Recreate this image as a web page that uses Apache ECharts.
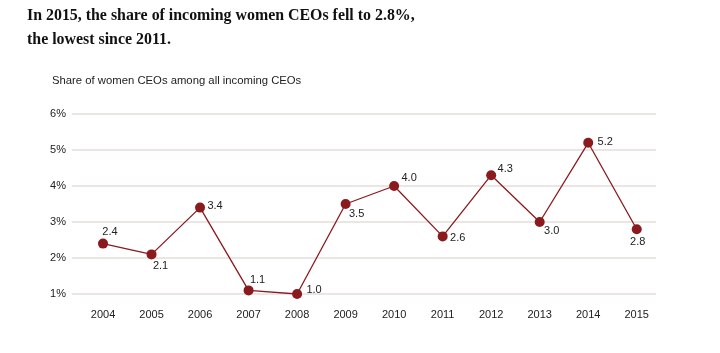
<!DOCTYPE html>
<html>
<head>
<meta charset="utf-8">
<script src="https://cdn.jsdelivr.net/npm/echarts@6/dist/echarts.min.js"></script>
<style>
  html, body { margin: 0; padding: 0; background: #fff; }
  #chart { width: 720px; height: 353px; }
</style>
</head>
<body>
<div id="chart"></div>
<script>
    // data
    var years = ["2004", "2005", "2006", "2007", "2008", "2009", "2010", "2011", "2012", "2013", "2014", "2015"];
    var share = [2.4, 2.1, 3.4, 1.1, 1.0, 3.5, 4.0, 2.6, 4.3, 3.0, 5.2, 2.8];
    var yTicks = [1, 2, 3, 4, 5, 6];

    // where each value label sits, relative to its dot
    var labelOffsets = [[7, -12], [9, 12], [15, -2], [9, -10], [17, -4], [11, 10],
        [15, -8], [15, 2], [14, -6], [12, 9], [17, -1], [1, 13]];

    var red = "#8b1a1f";
    var grey = "#e2deda";
    var sans = "Liberation Sans, Arial, sans-serif";

    var chart = echarts.init(document.getElementById("chart"));

    var points = share.map(function(v, i) {
        return {
            value: v,
            label: { offset: labelOffsets[i] }
        };
    });

    var option = {
        animation: false,
        title: [{
            text: "In 2015, the share of incoming women CEOs fell to 2.8%,\nthe lowest since 2011.",
            left: 22,
            top: -1,
            textStyle: {
                fontFamily: "Liberation Serif, serif",
                fontWeight: "bold",
                fontSize: 15.9,
                lineHeight: 24,
                color: "#111"
            }
        }, {
            text: "Share of women CEOs among all incoming CEOs",
            left: 47,
            top: 70,
            textStyle: {
                fontFamily: sans,
                fontWeight: "normal",
                fontSize: 11.3,
                color: "#222"
            }
        }],
        // grid 0 carries the horizontal rules, grid 1 the line itself
        grid: [
            { left: 72, right: 64, top: 114, bottom: 59 },
            { left: 78.75, right: 59, top: 114, bottom: 59 }
        ],
        xAxis: [{
            gridIndex: 0,
            type: "category",
            data: years,
            show: false
        }, {
            gridIndex: 1,
            type: "category",
            data: years,
            boundaryGap: true,
            axisLine: { show: false },
            axisTick: { show: false },
            axisLabel: {
                margin: 15,
                fontFamily: sans,
                fontSize: 11,
                color: "#222"
            }
        }],
        yAxis: [{
            gridIndex: 0,
            type: "value",
            min: yTicks[0],
            max: yTicks[yTicks.length - 1],
            interval: 1,
            axisLine: { show: false },
            axisTick: { show: false },
            axisLabel: {
                margin: 6,
                fontFamily: sans,
                fontSize: 11,
                color: "#222",
                formatter: "{value}%"
            },
            splitLine: { lineStyle: { color: grey, width: 1.5 } }
        }, {
            gridIndex: 1,
            type: "value",
            min: yTicks[0],
            max: yTicks[yTicks.length - 1],
            interval: 1,
            show: false
        }],
        series: [{
            type: "line",
            xAxisIndex: 1,
            yAxisIndex: 1,
            data: points,
            symbol: "circle",
            symbolSize: 10,
            showAllSymbol: true,
            lineStyle: { color: red, width: 1.3 },
            itemStyle: { color: red },
            label: {
                show: true,
                position: "inside",
                fontFamily: sans,
                fontSize: 11,
                color: "#222",
                formatter: function(p) { return p.value.toFixed(1); }
            }
        }]
    };

    chart.setOption(option);
</script>
</body>
</html>
